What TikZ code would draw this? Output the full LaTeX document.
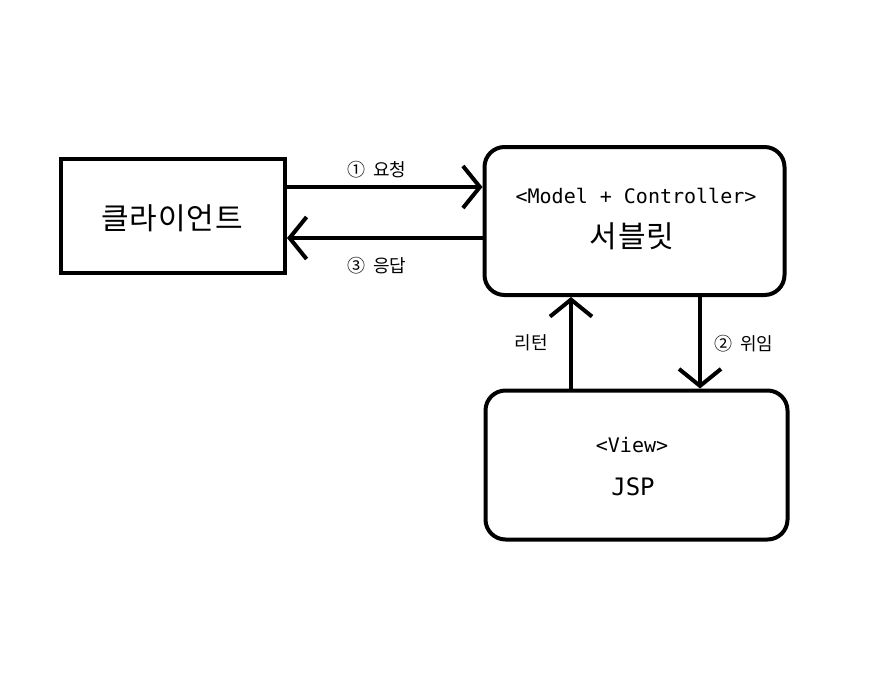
\documentclass[tikz,border=0pt]{standalone}
\usepackage{fontspec}
\setmainfont{Noto Sans CJK KR}
\newfontfamily\monofont{DejaVu Sans Mono}
\usetikzlibrary{arrows.meta}
\begin{document}
\begin{tikzpicture}[x=1pt,y=-1pt,
  box/.style={draw, line width=4pt, inner sep=0pt},
  rbox/.style={box, rounded corners=20pt},
  arr/.style={line width=4pt, -{Straight Barb[length=17pt,width=42pt]}},
  lbl/.style={font=\fontsize{18}{20}\selectfont, inner sep=0pt},
  title/.style={font=\addfontfeature{LetterSpace=3}\fontsize{30}{32}\selectfont, inner sep=0pt},
  mono/.style={font=\monofont\fontsize{20}{22}\selectfont, inner sep=0pt}]
\useasboundingbox (0,0) rectangle (890,677);
\node[box, minimum width=224pt, minimum height=114pt] (client) at (173,216) {};
\node[rbox, minimum width=300pt, minimum height=148pt] (servlet) at (634.5,221) {};
\node[rbox, minimum width=302pt, minimum height=149pt] (jsp) at (636.5,465) {};
\node[title] (clientt) at (172,218) {클라이언트};
\node[mono] (mc) at (636,196) {<Model + Controller>};
\node[title] (servt) at (632,236) {서블릿};
\node[mono] (view) at (632,445) {<View>};
\node[mono, font=\monofont\fontsize{24}{26}\selectfont] (jspt) at (633,487) {JSP};
\draw[arr] (client.east |- 0,187) -- (servlet.west |- 0,187);
\draw[arr] (servlet.west |- 0,238) -- (client.east |- 0,238);
\draw[arr] (jsp.north -| 571,0) -- (servlet.south -| 571,0);
\draw[arr] (servlet.south -| 700,0) -- (jsp.north -| 700,0);
\node[lbl] (l1) at (377,170) {①\hspace{0.4em}요청};
\node[lbl] (l3) at (377,266) {③\hspace{0.4em}응답};
\node[lbl] (lr) at (531,343) {리턴};
\node[lbl] (l2) at (744,344) {②\hspace{0.4em}위임};
\end{tikzpicture}
\end{document}
